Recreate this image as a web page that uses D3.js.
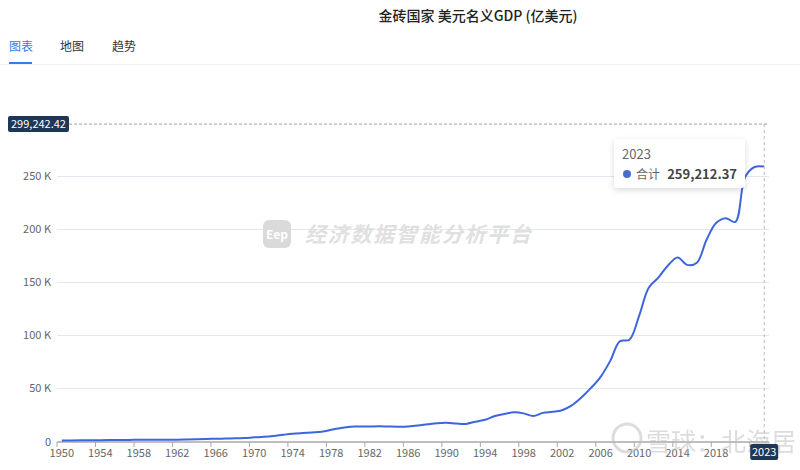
<!DOCTYPE html>
<html><head><meta charset="utf-8">
<script src="https://cdn.jsdelivr.net/npm/d3@7"></script>
<style>
html,body{margin:0;padding:0;background:#fff;}
svg{display:block;font-family:"Noto Sans CJK SC","Noto Sans",sans-serif;}
</style></head>
<body><svg id="c" width="800" height="470"></svg>
<script>
const years = d3.range(1950, 2024);
const gdp = [
  900, 1000, 1100, 1150, 1200, 1300, 1400, 1500, 1600, 1700,
  1750, 1700, 1750, 1850, 2050, 2300, 2600, 2750, 2950, 3300,
  3900, 4400, 5200, 6300, 7300, 8000, 8600, 9300, 11000, 12800,
  14000, 14100, 14200, 14300, 14100, 14000, 14200, 15000, 16200, 17300,
  17700, 17000, 16600, 18700, 20500, 24000, 26000, 27500, 26500, 24000,
  27000, 28000, 29500, 34000, 41500, 50500, 61000, 76000, 94500, 96000,
  118500, 145000, 154500, 166000, 173500, 166500, 168500, 190000, 206000, 210500,
  207000, 249000, 258800, 259212.37
];
const yTicks = [0, 50000, 100000, 150000, 200000, 250000];
const xTickYears = d3.range(1950, 2023, 4);
const xLabelYears = d3.range(1950, 2022, 4); // 2022 label sits under the 2023 pointer box
const title = "金砖国家 美元名义GDP (亿美元)";
const tabs = ["图表", "地图", "趋势"];
const seriesName = "合计";
const pointerValue = 299242.42;
const pointerYear = 2023;

const svg = d3.select("#c");
const m = {l: 57, r: 769, t: 123.3, b: 441.5};
const x = d3.scaleBand().domain(years).range([m.l, m.r]);
const y = d3.scaleLinear().domain([0, 300000]).range([m.b, m.t]);
const cx = d => x(d) + x.bandwidth() / 2;
const fmt2 = d3.format(",.2f");

// title
svg.append("text").attr("x", 478).attr("y", 21).attr("text-anchor", "middle")
  .attr("font-size", 14).attr("font-weight", 500).attr("fill", "#222").text(title);

// tabs
const tabX = [9, 60, 112];
tabs.forEach((t, i) => {
  svg.append("text").attr("x", tabX[i]).attr("y", 51).attr("font-size", 12)
    .attr("fill", i === 0 ? "#3a7af2" : "#333").text(t);
});
svg.append("line").attr("x1", 0).attr("x2", 800).attr("y1", 64.5).attr("y2", 64.5)
  .attr("stroke", "#edf0f5").attr("stroke-width", 1);
svg.append("rect").attr("x", 9).attr("y", 62).attr("width", 23).attr("height", 2).attr("fill", "#3a7af2");

// grid
const g = svg.append("g");
g.selectAll("line.grid").data(yTicks.filter(d => d > 0)).join("line")
  .attr("x1", m.l).attr("x2", m.r).attr("y1", d => Math.round(y(d)) + 0.5).attr("y2", d => Math.round(y(d)) + 0.5)
  .attr("stroke", "#e3e7f0").attr("stroke-width", 1);

// y labels
g.selectAll("text.yl").data(yTicks).join("text")
  .attr("x", 51).attr("y", d => y(d) + 4).attr("text-anchor", "end")
  .attr("font-size", 11).attr("fill", "#666")
  .text(d => d === 0 ? "0" : (d / 1000) + " K");

// watermark center
const wm = svg.append("g");
wm.append("rect").attr("x", 263).attr("y", 220).attr("width", 28).attr("height", 28).attr("rx", 6).attr("fill", "#dadada");
wm.append("text").attr("x", 277).attr("y", 239).attr("text-anchor", "middle").attr("font-size", 12)
  .attr("font-weight", 700).attr("fill", "#fff").text("Eep");
wm.append("text").attr("x", 305).attr("y", 242).attr("font-size", 21).attr("font-weight", 700)
  .attr("font-style", "italic").attr("fill", "#e0e0e0").attr("textLength", 226).text("经济数据智能分析平台");

// x axis
svg.append("line").attr("x1", m.l).attr("x2", m.r).attr("y1", 442).attr("y2", 442)
  .attr("stroke", "#a8a8a8").attr("stroke-width", 1.5);
svg.selectAll("line.xt").data(xTickYears).join("line")
  .attr("x1", d => x(d)).attr("x2", d => x(d)).attr("y1", 442).attr("y2", 447)
  .attr("stroke", "#a8a8a8").attr("stroke-width", 1);
svg.selectAll("text.xl").data(xLabelYears).join("text")
  .attr("x", d => cx(d)).attr("y", 457).attr("text-anchor", "middle")
  .attr("font-size", 11).attr("fill", "#666").text(d => d);

// line
const line = d3.line().x((d, i) => cx(years[i])).y(d => y(d)).curve(d3.curveCatmullRom.alpha(0.5));
svg.append("path").datum(gdp).attr("d", line).attr("fill", "none")
  .attr("stroke", "#3d66dc").attr("stroke-width", 2);

// bottom-right watermark (overlay)
const bw = svg.append("g").attr("opacity", 0.5);
bw.append("circle").attr("cx", 627).attr("cy", 438).attr("r", 14).attr("fill", "none").attr("stroke", "#bbb").attr("stroke-width", 3);
bw.append("text").attr("x", 646).attr("y", 451).attr("font-size", 25).attr("fill", "#bbb").text("雪球：北海居");

// crosshair
const px = cx(pointerYear);
svg.append("line").attr("x1", px).attr("x2", px).attr("y1", y(pointerValue)).attr("y2", 442)
  .attr("stroke", "#b5b9c6").attr("stroke-dasharray", "3,3").attr("stroke-width", 1);
svg.append("line").attr("x1", 69).attr("x2", m.r).attr("y1", y(pointerValue)).attr("y2", y(pointerValue))
  .attr("stroke", "#9aa0ad").attr("stroke-dasharray", "3,2").attr("stroke-width", 1);

// y pointer label
svg.append("rect").attr("x", 8).attr("y", y(pointerValue) - 8).attr("width", 61).attr("height", 16).attr("rx", 2).attr("fill", "#1e3657");
svg.append("text").attr("x", 38.5).attr("y", y(pointerValue) + 4).attr("text-anchor", "middle")
  .attr("font-size", 11).attr("fill", "#fff").text(fmt2(pointerValue));
// x pointer label
svg.append("rect").attr("x", px - 14).attr("y", 444).attr("width", 28).attr("height", 16).attr("rx", 2).attr("fill", "#1e3657");
svg.append("text").attr("x", px).attr("y", 456).attr("text-anchor", "middle")
  .attr("font-size", 11).attr("fill", "#fff").text(pointerYear);

// tooltip
const defs = svg.append("defs");
const f = defs.append("filter").attr("id", "sh").attr("x", "-20%").attr("y", "-30%").attr("width", "140%").attr("height", "160%");
f.append("feDropShadow").attr("dx", 0).attr("dy", 2).attr("stdDeviation", 3).attr("flood-color", "#000").attr("flood-opacity", 0.15);
const tt = svg.append("g").attr("transform", "translate(614,139)");
tt.append("rect").attr("width", 131).attr("height", 49).attr("rx", 4).attr("fill", "#fff").attr("filter", "url(#sh)");
tt.append("text").attr("x", 8).attr("y", 20).attr("font-size", 13).attr("fill", "#666").text(pointerYear);
tt.append("circle").attr("cx", 13).attr("cy", 35).attr("r", 4).attr("fill", "#4a6cd0");
tt.append("text").attr("x", 22).attr("y", 39.5).attr("font-size", 12).attr("fill", "#666").text(seriesName);
tt.append("text").attr("x", 123).attr("y", 40).attr("text-anchor", "end").attr("font-size", 13)
  .attr("font-weight", 700).attr("fill", "#444").text(fmt2(gdp[gdp.length - 1]));
</script></body></html>
